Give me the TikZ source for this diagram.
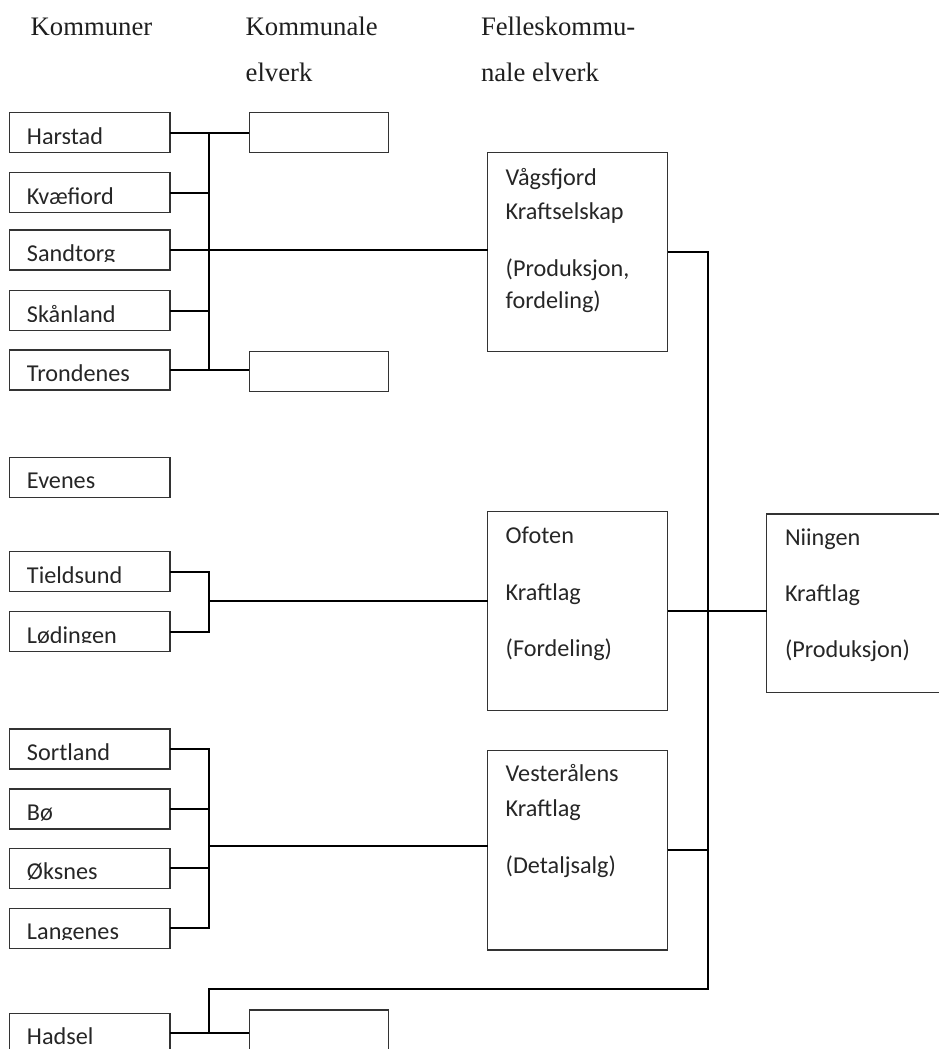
\documentclass[tikz,border=0pt]{standalone}
\usepackage{fontspec}
\setmainfont{Liberation Serif}
\newfontfamily\bodyfont{Carlito}
\usetikzlibrary{calc}
\definecolor{boxcol}{HTML}{333333}
\definecolor{txtcol}{HTML}{262626}
\definecolor{hdrcol}{HTML}{1E1E1E}
\tikzset{
  mbox/.style={draw=boxcol, line width=1.3bp, minimum width=160.7bp, minimum height=40bp, inner sep=0pt, outer sep=0pt},
  kbox/.style={draw=boxcol, line width=1.3bp, minimum width=139bp, minimum height=40bp, inner sep=0pt, outer sep=0pt},
  bigbox/.style={draw=boxcol, line width=1.3bp, minimum width=180bp, inner sep=0pt, outer sep=0pt},
  btext/.style={anchor=base west, inner sep=0pt, outer sep=0pt, text=txtcol, font=\bodyfont\fontsize{24.3}{28}\selectfont},
  htext/.style={anchor=base west, inner sep=0pt, outer sep=0pt, text=hdrcol, font=\fontsize{26.8}{30}\selectfont},
  conn/.style={line width=2bp, draw=black}
}
\newcommand{\mkmuni}[3]{%
  \node[mbox] (#1) at (89.65,#2) {};
  \begin{scope}
    \clip ($(#1.north west)+(-1,-1)$) rectangle ($(#1.north east)+(1,31)$);
    \node[btext] (#1t) at ($(#1.north west)+(17.7,31.5)$) {#3};
  \end{scope}}
\begin{document}
\begin{tikzpicture}[x=1bp,y=-1bp]
\useasboundingbox (0,0) rectangle (939,1049);
\clip (0,0) rectangle (939,1049);

% headers
\node[htext] (h1) at (30.7,35) {Kommuner};
\node[htext] (h2a) at (245.7,35) {Kommunale};
\node[htext] (h2b) at (245.7,81) {elverk};
\node[htext] (h3a) at (481,35) {Felleskommu-};
\node[htext] (h3b) at (481,81) {nale elverk};

% municipalities
\mkmuni{harstad}{132.7}{Harstad}
\mkmuni{kvae}{192.7}{Kvæfjord}
\mkmuni{sandt}{250}{Sandtorg}
\mkmuni{skan}{310.7}{Skånland}
\mkmuni{trond}{370}{Trondenes}
\mkmuni{evenes}{477.3}{Evenes}
\mkmuni{tield}{571.7}{Tieldsund}
\mkmuni{lod}{631.7}{Lødingen}
\mkmuni{sortl}{749}{Sortland}
\mkmuni{bo}{809}{Bø}
\mkmuni{oks}{868.3}{Øksnes}
\mkmuni{lang}{928.3}{Langenes}
\mkmuni{hadsel}{1033.3}{Hadsel}

% municipal power works (empty boxes)
\node[kbox] (kHar) at (318.8,132.7) {};
\node[kbox] (kTro) at (318.8,371.8) {};
\node[kbox] (kHad) at (318.8,1030) {};

% joint municipal companies
\node[bigbox, minimum height=199bp] (vags) at (577.7,252.2) {};
\node[btext] (vagsA) at (505.7,185) {Vågsfjord};
\node[btext] (vagsB) at (505.7,219) {Kraftselskap};
\node[btext] (vagsC) at (505.7,276) {(Produksjon,};
\node[btext] (vagsD) at (505.7,308.3) {fordeling)};

\node[bigbox, minimum height=199bp] (ofoten) at (577.7,611.2) {};
\node[btext] (ofotA) at (505.7,543.3) {Ofoten};
\node[btext] (ofotB) at (505.7,600.5) {Kraftlag};
\node[btext] (ofotC) at (505.7,656) {(Fordeling)};

\node[bigbox, minimum height=199.3bp] (vest) at (577.7,850.35) {};
\node[btext] (vestA) at (505.7,781.7) {Vesterålens};
\node[btext] (vestB) at (505.7,816.7) {Kraftlag};
\node[btext] (vestC) at (505.7,873) {(Detaljsalg)};

\node[bigbox, minimum width=191.3bp, minimum height=178.7bp] (niingen) at (862.35,603.35) {};
\node[btext] (niinA) at (785,545.7) {Niingen};
\node[btext] (niinB) at (785,601.7) {Kraftlag};
\node[btext] (niinC) at (785,657.3) {(Produksjon)};

% bus coordinates
\coordinate (busx) at (209,0);
\coordinate (rbus) at (707.7,0);
\coordinate (hb) at (209,989.3);
\coordinate (m2) at (209,600.7);
\coordinate (m3) at (209,846);

% group 1
\draw[conn] (harstad.east) -- (kHar.west);
\draw[conn] (trond.east) -- (trond.east -| kTro.west);
\draw[conn] (kvae.east) -- (kvae.east -| busx);
\draw[conn] (skan.east) -- (skan.east -| busx);
\draw[conn] (sandt.east) -- (sandt.east -| vags.west);
\draw[conn] (harstad.east -| busx) -- (trond.east -| busx);

% group 2
\draw[conn] (tield.east) -- (tield.east -| busx) -- (lod.east -| busx) -- (lod.east);
\draw[conn] (m2) -- (m2 -| ofoten.west);

% group 3
\draw[conn] (sortl.east) -- (sortl.east -| busx) -- (lang.east -| busx) -- (lang.east);
\draw[conn] (bo.east) -- (bo.east -| busx);
\draw[conn] (oks.east) -- (oks.east -| busx);
\draw[conn] (m3) -- (m3 -| vest.west);

% right side
\draw[conn] (vags.east) -- (vags.east -| rbus) -- (rbus |- hb) -- (hb) -- (hadsel.east -| busx);
\draw[conn] (ofoten.east) -- (ofoten.east -| niingen.west);
\draw[conn] (vest.east) -- (vest.east -| rbus);
\draw[conn] (hadsel.east) -- (hadsel.east -| kHad.west);
\end{tikzpicture}
\end{document}
